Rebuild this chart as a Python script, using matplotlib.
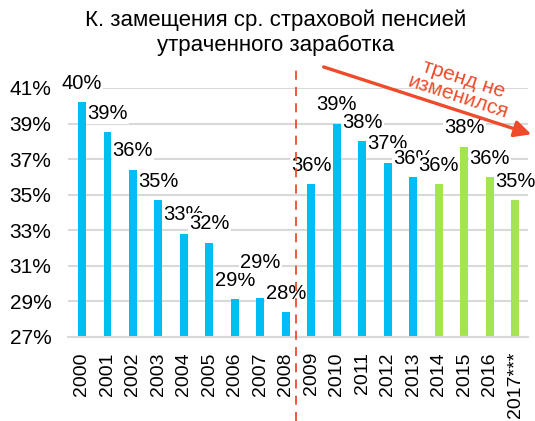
import matplotlib.pyplot as plt
from matplotlib.transforms import blended_transform_factory

plt.rcParams['font.family'] = ['Liberation Sans', 'DejaVu Sans']

years = ['2000', '2001', '2002', '2003', '2004', '2005', '2006', '2007', '2008',
         '2009', '2010', '2011', '2012', '2013', '2014', '2015', '2016', '2017***']
values = [40.2, 38.5, 36.4, 34.7, 32.8, 32.3, 29.1, 29.2, 28.4,
          35.6, 39.0, 38.0, 36.8, 36.0, 35.6, 37.7, 36.0, 34.7]
labels = ['40%', '39%', '36%', '35%', '33%', '32%', '29%', '29%', '28%',
          '36%', '39%', '38%', '37%', '36%', '36%', '38%', '36%', '35%']
yticks = [27, 29, 31, 33, 35, 37, 39, 41]

blue = '#00BEF2'
green = '#A3E54F'
red = '#EE4B2B'
colors = [blue] * 14 + [green] * 4

fig = plt.figure(figsize=(5.35, 4.21), dpi=100)
ax = fig.add_axes([0.127, 0.2, 0.86, 0.591])

x = list(range(len(years)))
ax.bar(x, [v - 27 for v in values], bottom=27, width=0.31, color=colors, zorder=2)

ax.set_ylim(27, 41)
ax.set_xlim(-0.55, 17.5)
ax.set_yticks(yticks)
ax.set_yticklabels([f'{t}%' for t in yticks], fontsize=15)
ax.set_xticks(x)
ax.set_xticklabels(years, rotation=90, fontsize=14)
ax.tick_params(axis='both', length=0)
ax.tick_params(axis='y', pad=12)
ax.tick_params(axis='x', pad=11)
ax.grid(axis='y', color='#D9D9D9', lw=1.5, zorder=0)
for s in ['left', 'right', 'top']:
    ax.spines[s].set_visible(False)
ax.spines['bottom'].set_color('#D9D9D9')
ax.spines['bottom'].set_linewidth(1.5)

# data labels
for i, (v, lab) in enumerate(zip(values, labels)):
    off = 25 if i == 7 else 13.5
    ax.annotate(lab, (i, v), xytext=(0, off), textcoords='offset points',
                ha='center', va='center', fontsize=14.5, zorder=3 + i,
                bbox=dict(boxstyle='square,pad=0.05', fc='white', ec='none'),
                annotation_clip=False)

# dashed divider
tr = blended_transform_factory(ax.transData, ax.transAxes)
ax.plot([8.4, 8.4], [-0.34, 1.085], transform=tr, color=red, lw=1.3,
        ls=(0, (5, 4)), clip_on=False, zorder=30)

# title
fig.text(0.515, 0.953, 'К. замещения ср. страховой пенсией', ha='center',
         va='center', fontsize=16)
fig.text(0.515, 0.892, 'утраченного заработка', ha='center', va='center',
         fontsize=16)

# trend arrow
ax.annotate('', xy=(0.998, 0.679), xycoords='figure fraction',
            xytext=(0.6, 0.843), textcoords='figure fraction',
            arrowprops=dict(arrowstyle='-|>,head_length=1.0,head_width=0.5',
                            color=red, lw=2.4), zorder=40, annotation_clip=False)
fig.text(0.862, 0.79, 'тренд не\nизменился', color=red, fontsize=15,
         ha='center', va='center', rotation=-18, linespacing=1.0)

fig.savefig('out.png', dpi=100)
